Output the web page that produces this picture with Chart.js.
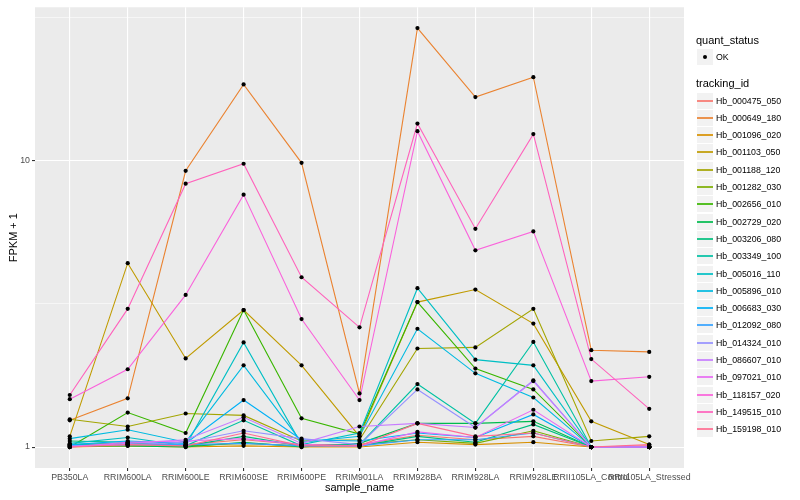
<!DOCTYPE html>
<html>
<head>
<meta charset="utf-8">
<script src="https://cdn.jsdelivr.net/npm/chart.js@4.4.1/dist/chart.umd.min.js"></script>
<style>
  body { margin: 0; background: #fff; }
  #wrap { position: relative; width: 800px; height: 500px; font-family: "Liberation Sans", Arial, sans-serif; }
  #myChart { position: absolute; left: 0; top: 0; }
  .ltitle { position: absolute; left: 696px; font-size: 11px; line-height: 13px; color: #000; white-space: nowrap; }
  .lkey { position: absolute; left: 697px; width: 16px; height: 16px; background: #F2F2F2; }
  .lline { position: absolute; left: 0; width: 16px; top: 7px; height: 2px; opacity: 0.85; }
  .ldot { position: absolute; left: 6px; top: 6px; width: 4px; height: 4px; border-radius: 2px; background: #000; }
  .llabel { position: absolute; left: 716px; font-size: 8.8px; line-height: 10px; color: #000; white-space: nowrap; }
</style>
</head>
<body>
<div id="wrap">
  <canvas id="myChart" width="800" height="500"></canvas>
  <div id="legend"></div>
</div>
<script>
const samples = ["PB350LA", "RRIM600LA", "RRIM600LE", "RRIM600SE", "RRIM600PE", "RRIM901LA",
  "RRIM928BA", "RRIM928LA", "RRIM928LE", "RRII105LA_Control", "RRII105LA_Stressed"];

const trackingIds = ["Hb_000475_050", "Hb_000649_180", "Hb_001096_020", "Hb_001103_050", "Hb_001188_120",
  "Hb_001282_030", "Hb_002656_010", "Hb_002729_020", "Hb_003206_080", "Hb_003349_100",
  "Hb_005016_110", "Hb_005896_010", "Hb_006683_030", "Hb_012092_080", "Hb_014324_010",
  "Hb_086607_010", "Hb_097021_010", "Hb_118157_020", "Hb_149515_010", "Hb_159198_010"];

// ggplot hue palette, 20 levels
const colors = ["#F8766D", "#EA8331", "#D89000", "#C09B00", "#A3A500", "#7CAE00", "#39B600", "#00BB4E",
  "#00BF7D", "#00C1A3", "#00BFC4", "#00BAE0", "#00B0F6", "#35A2FF", "#9590FF", "#C77CFF",
  "#E76BF3", "#FA62DB", "#FF62BC", "#FF6C91"];

// FPKM + 1 per sample
const hb_000475_050 = [1.02, 1.03, 1.02, 1.06, 1.02, 1.02, 1.10, 1.06, 1.09, 1.00, 1.01];
const hb_000649_180 = [1.24, 1.48, 9.23, 18.5, 9.84, 1.54, 29.1, 16.7, 19.6, 2.18, 2.15];
const hb_001096_020 = [1.00, 1.01, 1.00, 1.01, 1.00, 1.00, 1.04, 1.02, 1.04, 1.00, 1.00];
const hb_001103_050 = [1.09, 4.39, 2.04, 3.01, 1.93, 1.09, 3.21, 3.55, 2.70, 1.23, 1.02];
const hb_001188_120 = [1.25, 1.18, 1.31, 1.29, 1.05, 1.06, 2.21, 2.23, 3.04, 1.05, 1.09];
const hb_001282_030 = [1.01, 1.02, 1.01, 1.03, 1.01, 1.02, 1.06, 1.03, 1.14, 1.00, 1.00];
const hb_002656_010 = [1.00, 1.32, 1.12, 3.01, 1.26, 1.11, 3.21, 1.88, 1.59, 1.00, 1.00];
const hb_002729_020 = [1.01, 1.01, 1.00, 1.04, 1.00, 1.03, 1.21, 1.21, 1.23, 1.00, 1.00];
const hb_003206_080 = [1.05, 1.04, 1.01, 1.09, 1.01, 1.01, 1.09, 1.04, 1.20, 1.00, 1.00];
const hb_003349_100 = [1.02, 1.03, 1.01, 1.24, 1.01, 1.02, 1.66, 1.21, 2.33, 1.00, 1.00];
const hb_005016_110 = [1.03, 1.08, 1.01, 2.32, 1.02, 1.12, 3.59, 2.02, 1.93, 1.00, 1.00];
const hb_005896_010 = [1.07, 1.15, 1.04, 1.93, 1.04, 1.09, 2.59, 1.81, 1.49, 1.00, 1.00];
const hb_006683_030 = [1.02, 1.05, 1.03, 1.46, 1.06, 1.05, 1.12, 1.08, 1.30, 1.00, 1.00];
const hb_012092_080 = [1.01, 1.02, 1.02, 1.03, 1.01, 1.01, 1.06, 1.06, 1.12, 1.00, 1.00];
const hb_014324_010 = [1.01, 1.02, 1.04, 1.14, 1.07, 1.02, 1.59, 1.17, 1.71, 1.00, 1.00];
const hb_086607_010 = [1.00, 1.03, 1.06, 1.27, 1.03, 1.18, 1.21, 1.17, 1.70, 1.00, 1.00];
const hb_097021_010 = [1.00, 1.04, 1.05, 1.07, 1.02, 1.01, 1.13, 1.08, 1.35, 1.00, 1.00];
const hb_118157_020 = [1.47, 1.87, 3.40, 7.62, 2.80, 1.46, 12.7, 4.87, 5.67, 1.70, 1.76];
const hb_149515_010 = [1.52, 3.04, 8.32, 9.77, 3.92, 2.62, 13.5, 5.79, 12.4, 2.03, 1.36];
const hb_159198_010 = [1.00, 1.02, 1.01, 1.12, 1.01, 1.01, 1.21, 1.09, 1.12, 1.00, 1.02];

const seriesValues = [hb_000475_050, hb_000649_180, hb_001096_020, hb_001103_050, hb_001188_120,
  hb_001282_030, hb_002656_010, hb_002729_020, hb_003206_080, hb_003349_100,
  hb_005016_110, hb_005896_010, hb_006683_030, hb_012092_080, hb_014324_010,
  hb_086607_010, hb_097021_010, hb_118157_020, hb_149515_010, hb_159198_010];

// y breaks: major 1, 10 and minor ones in between (log space)
const yTicks = [1, 3.1623, 10, 31.623];
const yTickLabels = ["1", "", "10", ""];

const datasets = [];
seriesValues.forEach((vals, k) => {
  const pts = vals.map((v, i) => ({ x: i, y: v }));
  datasets.push({
    label: trackingIds[k],
    data: pts,
    borderColor: colors[k],
    borderWidth: 1.1,
    pointRadius: 0,
    fill: false,
    tension: 0,
    order: 100 - k
  });
  datasets.push({
    label: trackingIds[k] + " OK",
    data: pts,
    showLine: false,
    pointRadius: 2.1,
    pointBorderWidth: 0,
    pointBackgroundColor: "#000",
    order: 0
  });
});

// grey panel behind everything
const panelBg = {
  id: "panelBg",
  beforeDraw(chart) {
    const { ctx, chartArea: a } = chart;
    ctx.save();
    ctx.fillStyle = "#EBEBEB";
    ctx.fillRect(a.left, a.top, a.right - a.left, a.bottom - a.top);
    ctx.restore();
  }
};

Chart.defaults.font.family = '"Liberation Sans", Arial, sans-serif';

const chart = new Chart(document.getElementById("myChart"), {
  type: "line",
  data: { datasets: datasets },
  plugins: [panelBg],
  options: {
    responsive: false,
    animation: false,
    events: [],
    layout: { padding: { left: 0, top: 3, right: 116, bottom: 0 } },
    plugins: { legend: { display: false }, tooltip: { enabled: false } },
    scales: {
      x: {
        type: "linear",
        min: -0.6,
        max: 10.6,
        afterBuildTicks: s => { s.ticks = samples.map((_, i) => ({ value: i })); },
        afterFit: s => { s.height = 32; },
        ticks: {
          callback: v => samples[v],
          autoSkip: false,
          maxRotation: 0,
          minRotation: 0,
          font: { size: 8.8 },
          color: "#4D4D4D",
          padding: 1
        },
        grid: { color: "#FFFFFF", lineWidth: 1.1, tickColor: "#333333", tickLength: 3 },
        border: { display: false },
        title: { display: true, text: "sample_name", font: { size: 11 }, color: "#000", padding: { top: 0, bottom: 5 } }
      },
      y: {
        type: "logarithmic",
        min: 0.845,
        max: 34.4,
        afterBuildTicks: s => { s.ticks = yTicks.map(v => ({ value: v })); },
        afterFit: s => { s.width = 35; },
        ticks: {
          callback: (v, i) => yTickLabels[i],
          font: { size: 8.8 },
          color: "#4D4D4D",
          padding: 2
        },
        grid: {
          color: "#FFFFFF",
          lineWidth: c => (c.index % 2 === 0 ? 1.1 : 0.55),
          tickColor: c => (c.index % 2 === 0 ? "#333333" : "rgba(0,0,0,0)"),
          tickLength: 3
        },
        border: { display: false },
        title: { display: true, text: "FPKM + 1", font: { size: 11 }, color: "#000", padding: { top: 7, bottom: 0 } }
      }
    }
  }
});

// ggplot-style legend on the right
const legend = document.getElementById("legend");
let html = '<div class="ltitle" style="top:34px">quant_status</div>';
html += '<div class="lkey" style="top:49px"><div class="ldot"></div></div>';
html += '<div class="llabel" style="top:52px">OK</div>';
html += '<div class="ltitle" style="top:77px">tracking_id</div>';
trackingIds.forEach((id, k) => {
  const c = Math.round(100.5 + k * 17.3);
  html += `<div class="lkey" style="top:${c - 8}px"><div class="lline" style="background:${colors[k]}"></div></div>`;
  html += `<div class="llabel" style="top:${c - 5}px">${id}</div>`;
});
legend.innerHTML = html;
</script>
</body>
</html>
